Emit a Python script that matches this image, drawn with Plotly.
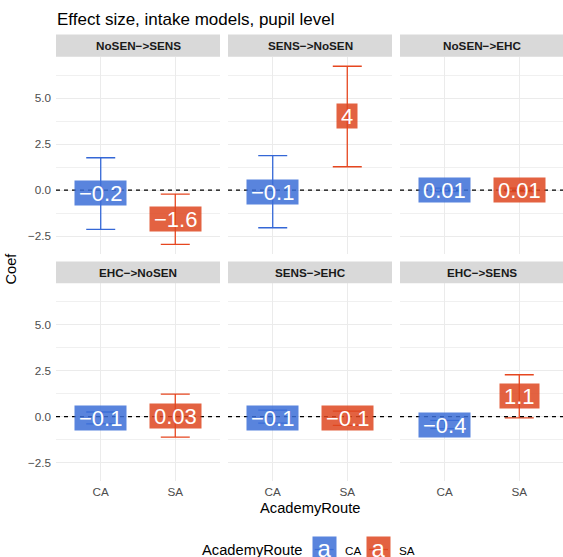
import plotly.graph_objects as go
from plotly.subplots import make_subplots

# ---------------- data ----------------
facets = ["NoSEN−>SENS", "SENS−>NoSEN", "NoSEN−>EHC",
          "EHC−>NoSEN", "SENS−>EHC", "EHC−>SENS"]
routes = ["CA", "SA"]

ca_coef = [-0.18, -0.08, 0.01, -0.1, -0.08, -0.45]
ca_low = [-2.14, -2.05, -0.09, -0.40, -0.35, -0.65]
ca_high = [1.76, 1.87, 0.11, 0.25, 0.35, -0.20]
ca_labels = ["−0.2", "−0.1", "0.01", "−0.1", "−0.1", "−0.4"]

sa_coef = [-1.56, 4.03, 0.01, 0.03, -0.1, 1.13]
sa_low = [-2.96, 1.27, -0.09, -1.12, -0.48, -0.07]
sa_high = [-0.22, 6.74, 0.11, 1.22, 0.30, 2.28]
sa_labels = ["−1.6", "4", "0.01", "0.03", "−0.1", "1.1"]

y_ticks = [-2.5, 0.0, 2.5, 5.0]

# ---------------- style ----------------
W, H = 563, 557
FONT = "Liberation Sans, Arial, sans-serif"
bar_col = {"CA": "#3467D6", "SA": "#E6461F"}
lab_col = {"CA": "rgba(60,110,215,0.85)", "SA": "rgba(222,70,32,0.85)"}

col_px = [(56, 220), (228, 392), (400, 563)]
row_strip_px = [(34.5, 56.7), (261.5, 283.3)]
row_panel_px = [(56.7, 254.0), (283.3, 480.5)]
y_range = [-3.48, 7.26]
px_per_unit_x = 164 / 2.2


def fx(px):
    return px / W


def fy(py):
    return 1 - py / H


fig = make_subplots(rows=2, cols=3)

shapes = []
annotations = []

for i, fac in enumerate(facets):
    r, c = divmod(i, 3)
    n = i + 1
    xa = "x" if n == 1 else f"x{n}"
    ya = "y" if n == 1 else f"y{n}"
    # traces: error bars
    for route, coef, lo, hi in (("CA", ca_coef, ca_low, ca_high),
                                ("SA", sa_coef, sa_low, sa_high)):
        fig.add_trace(go.Scatter(
            x=[route], y=[coef[i]], mode="markers",
            marker=dict(size=1, color="rgba(0,0,0,0)"),
            error_y=dict(type="data", symmetric=False,
                         array=[hi[i] - coef[i]], arrayminus=[coef[i] - lo[i]],
                         color=bar_col[route], thickness=1.3, width=14.5),
            showlegend=False, hoverinfo="skip"), row=r + 1, col=c + 1)
    # labels
    for route, coef, labs in (("CA", ca_coef, ca_labels), ("SA", sa_coef, sa_labels)):
        annotations.append(dict(
            x=route, y=coef[i], xref=xa, yref=ya, text=labs[i], showarrow=False,
            font=dict(family=FONT, size=22, color="white"),
            bgcolor=lab_col[route], borderpad=4, height=16,
            xanchor="center", yanchor="middle", valign="middle"))
    # zero line
    shapes.append(dict(type="line", xref=f"{xa} domain", yref=ya, x0=0, x1=1, y0=0, y1=0,
                       line=dict(color="black", width=1.3, dash="4px,4px"), layer="above"))
    # strip
    x0, x1 = col_px[c]
    s0, s1 = row_strip_px[r]
    shapes.append(dict(type="rect", xref="paper", yref="paper",
                       x0=fx(x0), x1=fx(x1), y0=fy(s1), y1=fy(s0),
                       fillcolor="#D9D9D9", line=dict(width=0)))
    annotations.append(dict(x=fx((x0 + (x0 + 164)) / 2), y=fy((s0 + s1) / 2),
                            xref="paper", yref="paper", text=fac, showarrow=False,
                            font=dict(family=FONT, size=11.7, color="#1A1A1A", weight="bold"),
                            xanchor="center", yanchor="middle"))
    # axis domains
    p0, p1 = row_panel_px[r]
    xr = [-0.6, 1.6] if c < 2 else [-0.6, -0.6 + (x1 - x0) / px_per_unit_x]
    fig.update_layout({
        ("xaxis" if n == 1 else f"xaxis{n}"): dict(
            domain=[fx(x0), fx(x1)], range=xr, type="category",
            categoryorder="array", categoryarray=routes,
            showgrid=True, gridcolor="#EBEBEB", gridwidth=1.1, zeroline=False,
            showline=False, ticks="", showticklabels=(r == 1),
            tickfont=dict(family=FONT, size=11.7, color="#4D4D4D"),
            ticklabelstandoff=3),
        ("yaxis" if n == 1 else f"yaxis{n}"): dict(
            domain=[fy(p1), fy(p0)], range=y_range,
            tickvals=y_ticks, ticktext=[("−" if v < 0 else "") + f"{abs(v):.1f}" for v in y_ticks],
            showgrid=True, gridcolor="#EBEBEB", gridwidth=1.1, zeroline=False,
            showline=False, ticks="", ticklen=0, showticklabels=(c == 0),
            tickfont=dict(family=FONT, size=11.7, color="#4D4D4D"),
            ticklabelstandoff=4,
            minor=dict(dtick=1.25, tick0=0, showgrid=True, gridcolor="#F0F0F0", gridwidth=0.7)),
    })

# title
annotations.append(dict(x=fx(55), y=fy(19), xref="paper", yref="paper",
                        text="Effect size, intake models, pupil level", showarrow=False,
                        font=dict(family=FONT, size=17, color="black"),
                        xanchor="left", yanchor="middle"))
# axis titles
annotations.append(dict(x=fx(11), y=fy(268.6), xref="paper", yref="paper", text="Coef",
                        showarrow=False, textangle=-90,
                        font=dict(family=FONT, size=14.7, color="black"),
                        xanchor="center", yanchor="middle"))
annotations.append(dict(x=fx(310), y=fy(508), xref="paper", yref="paper", text="AcademyRoute",
                        showarrow=False, font=dict(family=FONT, size=14.7, color="black"),
                        xanchor="center", yanchor="middle"))

# legend (drawn manually, ggplot-style)
annotations.append(dict(x=fx(304), y=fy(550), xref="paper", yref="paper", text="AcademyRoute",
                        showarrow=False, font=dict(family=FONT, size=14.7, color="black"),
                        xanchor="right", yanchor="middle"))
for route, kx in zip(routes, (312.7, 367)):
    shapes.append(dict(type="line", xref="paper", yref="paper",
                       x0=fx(kx + 2), x1=fx(kx + 21), y0=fy(549.5), y1=fy(549.5),
                       line=dict(color=bar_col[route], width=1.3)))
    annotations.append(dict(x=fx(kx + 11.5), y=fy(548.5), xref="paper", yref="paper", text="a",
                            showarrow=False, font=dict(family=FONT, size=24, color="white"),
                            bgcolor=lab_col[route], borderpad=0, width=23, height=23,
                            xanchor="center", yanchor="middle", valign="middle"))
    annotations.append(dict(x=fx(kx + 30), y=fy(550), xref="paper", yref="paper", text=route,
                            showarrow=False, font=dict(family=FONT, size=11.7, color="black"),
                            xanchor="left", yanchor="middle"))

fig.update_layout(
    width=W, height=H, margin=dict(l=0, r=0, t=0, b=0, pad=0),
    paper_bgcolor="white", plot_bgcolor="white",
    shapes=shapes, annotations=annotations, showlegend=False,
    font=dict(family=FONT),
)

fig.write_html("out.html", config={"displayModeBar": False},
               post_script="document.body.style.margin='0';document.body.style.overflow='hidden';")
